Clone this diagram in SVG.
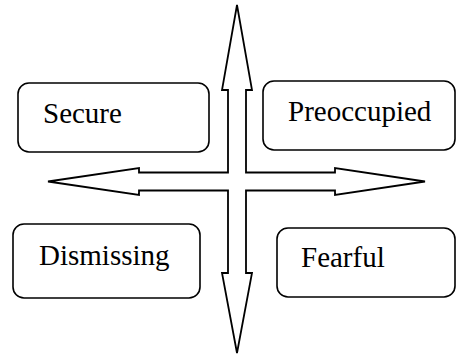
<svg xmlns="http://www.w3.org/2000/svg" width="457" height="356" viewBox="0 0 457 356">
<style>
.box{fill:#fff;stroke:#000;stroke-width:1.6}
.lbl{font-family:"Liberation Serif","Times New Roman",serif;font-size:29px;fill:#000}
.arr{fill:#fff;stroke:#000;stroke-width:1.8;stroke-linejoin:miter}
</style>
<rect width="457" height="356" fill="#fff"/>
<g id="connectors">
<path class="arr" d="M237,5 L252,90 L246,90 L246,172.5 L335,172.5 L335,168 L425,181.5 L335,195 L335,190.5 L246,190.5 L246,273 L252,273 L237,353 L222,273 L228,273 L228,190.5 L139,190.5 L139,195 L48,181.5 L139,168 L139,172.5 L228,172.5 L228,90 L222,90 Z"/>
</g>
<g id="secure">
<rect class="box" x="18" y="83" width="191" height="69" rx="11"/>
<text class="lbl" x="43" y="123">Secure</text>
</g>
<g id="preoccupied">
<rect class="box" x="263" y="81" width="192" height="69" rx="11"/>
<text class="lbl" x="288" y="121">Preoccupied</text>
</g>
<g id="dismissing">
<rect class="box" x="13" y="224" width="187" height="74" rx="11"/>
<text class="lbl" x="39" y="265">Dismissing</text>
</g>
<g id="fearful">
<rect class="box" x="277" y="228" width="178" height="69" rx="11"/>
<text class="lbl" x="301" y="267">Fearful</text>
</g>
</svg>
